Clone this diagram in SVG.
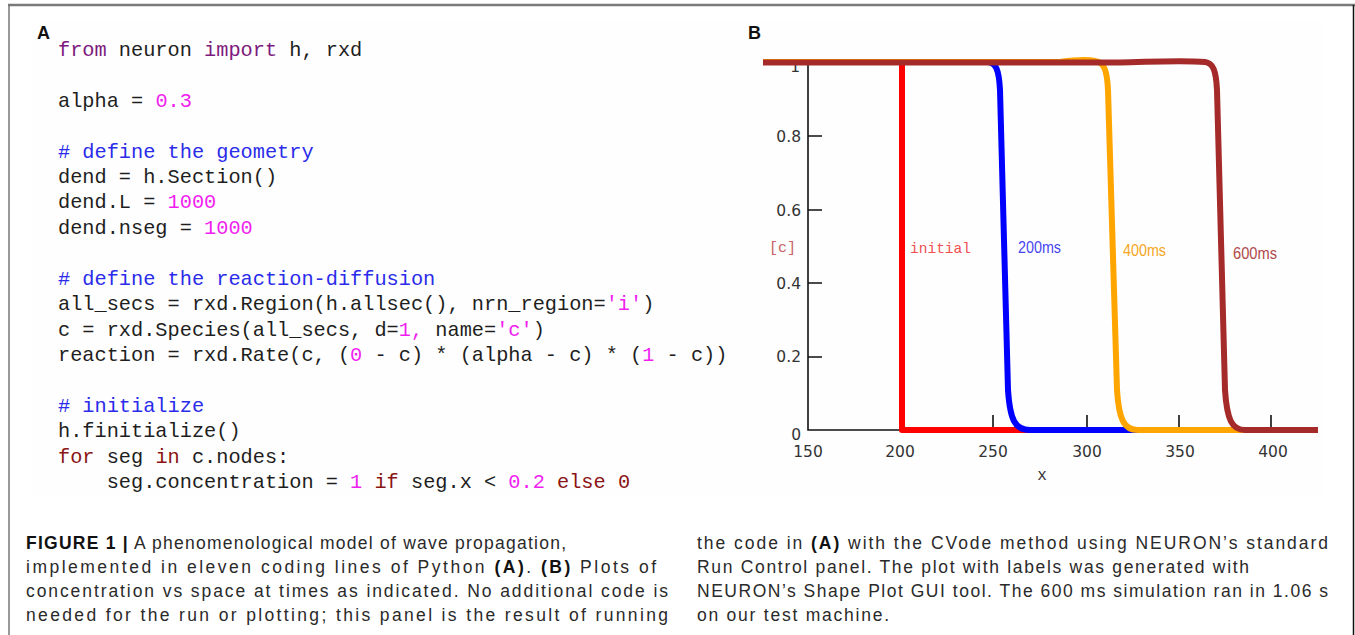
<svg xmlns="http://www.w3.org/2000/svg" width="1355" height="635" viewBox="0 0 1355 635">
<style>
.code{font-family:"Liberation Mono","DejaVu Sans Mono",monospace;font-size:20.3px;fill:#1e1e1e}
.kw{fill:#7d1a7d}
.kw2{fill:#8b1414}
.cm{fill:#2b2bea}
.num{fill:#f01ef0}
.lbl{font-family:"Liberation Sans",Arial,sans-serif;font-weight:bold;font-size:18px;fill:#111}
.tick{font-family:"DejaVu Sans",sans-serif;font-size:15.5px;fill:#333}
.cap{font-family:"Liberation Sans",Arial,sans-serif;font-size:17.5px;fill:#2a2a2a}
.b{font-weight:bold;fill:#111}
.curve{fill:none;stroke-width:6;stroke-linejoin:round}
.ax{stroke:#111;stroke-width:1.6;fill:none}
</style>
<rect width="1355" height="635" fill="#fff"/>
<g id="frame">
<rect x="33" y="22" width="1289" height="474" fill="#fefefe"/>
<line x1="8" y1="5" x2="1355" y2="5" stroke="#7a7a7a" stroke-width="2.5"/>
<line x1="9" y1="5" x2="9" y2="635" stroke="#777" stroke-width="1.5"/>
<line x1="1353.5" y1="5" x2="1353.5" y2="635" stroke="#111" stroke-width="1.5"/>
</g>
<g id="panelA">
<text class="lbl" x="37" y="39">A</text>
<text class="code" x="58" y="56"><tspan class="kw">from</tspan> neuron <tspan class="kw">import</tspan> h, rxd</text>
<text class="code" x="58" y="107">alpha = <tspan class="num">0.3</tspan></text>
<text class="code cm" x="58" y="158"># define the geometry</text>
<text class="code" x="58" y="183">dend = h.Section()</text>
<text class="code" x="58" y="208">dend.L = <tspan class="num">1000</tspan></text>
<text class="code" x="58" y="234">dend.nseg = <tspan class="num">1000</tspan></text>
<text class="code cm" x="58" y="285"># define the reaction-diffusion</text>
<text class="code" x="58" y="310">all_secs = rxd.Region(h.allsec(), nrn_region=<tspan class="num">'i'</tspan>)</text>
<text class="code" x="58" y="336">c = rxd.Species(all_secs, d=<tspan class="num">1,</tspan> name=<tspan class="num">'c'</tspan>)</text>
<text class="code" x="58" y="361">reaction = rxd.Rate(c, (<tspan class="num">0</tspan> - c) * (alpha - c) * (<tspan class="num">1</tspan> - c))</text>
<text class="code cm" x="58" y="412"># initialize</text>
<text class="code" x="58" y="437">h.finitialize()</text>
<text class="code" x="58" y="463"><tspan class="kw2">for</tspan> seg <tspan class="kw2">in</tspan> c.nodes:</text>
<text class="code" x="106.7" y="488">seg.concentration = <tspan class="num">1</tspan> <tspan class="kw2">if</tspan> seg.x &lt; <tspan class="num">0.2</tspan> <tspan class="kw2">else 0</tspan></text>
</g>
<g id="panelB">
<text class="lbl" x="748" y="39">B</text>
<g id="axes">
<text class="tick" x="800" y="72" text-anchor="end">1</text>
<path class="ax" d="M808,62 V430 H1318"/>
<path class="ax" d="M808,357 h14 M808,283 h14 M808,210 h14 M808,136 h14 M993,430 v-15 M1087,430 v-15 M1179,430 v-15 M1271,430 v-15"/>
<text class="tick" x="801" y="440" text-anchor="end">0</text>
<text class="tick" x="801" y="362" text-anchor="end">0.2</text>
<text class="tick" x="801" y="289" text-anchor="end">0.4</text>
<text class="tick" x="801" y="216" text-anchor="end">0.6</text>
<text class="tick" x="801" y="142" text-anchor="end">0.8</text>
<text class="tick" x="808" y="457" text-anchor="middle">150</text>
<text class="tick" x="900" y="457" text-anchor="middle">200</text>
<text class="tick" x="993" y="457" text-anchor="middle">250</text>
<text class="tick" x="1087" y="457" text-anchor="middle">300</text>
<text class="tick" x="1180" y="457" text-anchor="middle">350</text>
<text class="tick" x="1273" y="457" text-anchor="middle">400</text>
<text x="1042" y="480" text-anchor="middle" style="font-family:'Liberation Mono',monospace;font-size:16px;fill:#333">x</text>
<text x="769" y="252" style="font-family:'Liberation Mono',monospace;font-size:15px;fill:#c86464">[c]</text>
</g>
<g id="curves">
<path class="curve" stroke="#ff0000" d="M763,62 H902 V430 H1318" stroke-linejoin="miter"/>
<path class="curve" stroke="#0000ff" d="M763,62 H987 C996,62 999,70 1000,90 L1008,390 C1010,420 1015,430 1030,430 H1318"/>
<path class="curve" stroke="#ffa500" d="M763,62 H1060 C1075,60 1085,59 1095,61 C1104,62 1107,70 1108,90 L1117,390 C1119,420 1124,430 1138,430 H1318"/>
<path class="curve" stroke="#a52a2a" d="M763,62.5 H1120 C1150,62 1180,60 1205,62 C1213,63 1216,70 1217,90 L1225,390 C1227,420 1232,430 1245,430 H1318"/>
</g>
<text x="910" y="253" style="font-family:'Liberation Mono',monospace;font-size:15px;fill:#f05050" textLength="61" lengthAdjust="spacingAndGlyphs">initial</text>
<text x="1018" y="253" textLength="43" lengthAdjust="spacingAndGlyphs" style="font-family:'Liberation Sans',sans-serif;font-size:16px;fill:#4646f0">200ms</text>
<text x="1123" y="256" textLength="43" lengthAdjust="spacingAndGlyphs" style="font-family:'Liberation Sans',sans-serif;font-size:16px;fill:#f5a623">400ms</text>
<text x="1233" y="259" textLength="44" lengthAdjust="spacingAndGlyphs" style="font-family:'Liberation Sans',sans-serif;font-size:16px;fill:#b04848">600ms</text>
</g>
<g id="caption">
<text class="cap" x="26" y="549" textLength="540" lengthAdjust="spacing"><tspan class="b">FIGURE 1 |</tspan> A phenomenological model of wave propagation,</text>
<text class="cap" x="26" y="573" textLength="630" lengthAdjust="spacing">implemented in eleven coding lines of Python <tspan class="b">(A)</tspan>. <tspan class="b">(B)</tspan> Plots of</text>
<text class="cap" x="26" y="597" textLength="642" lengthAdjust="spacing">concentration vs space at times as indicated. No additional code is</text>
<text class="cap" x="26" y="621" textLength="642" lengthAdjust="spacing">needed for the run or plotting; this panel is the result of running</text>
<text class="cap" x="697" y="549" textLength="631" lengthAdjust="spacing">the code in <tspan class="b">(A)</tspan> with the CVode method using NEURON’s standard</text>
<text class="cap" x="697" y="573" textLength="552" lengthAdjust="spacing">Run Control panel. The plot with labels was generated with</text>
<text class="cap" x="697" y="597" textLength="631" lengthAdjust="spacing">NEURON’s Shape Plot GUI tool. The 600 ms simulation ran in 1.06 s</text>
<text class="cap" x="697" y="621" textLength="192" lengthAdjust="spacing">on our test machine.</text>
</g>
</svg>
